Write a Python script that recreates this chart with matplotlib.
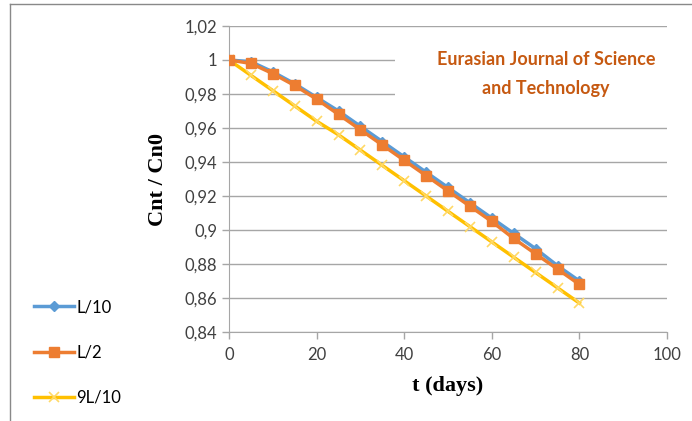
import matplotlib.pyplot as plt
from matplotlib.ticker import FuncFormatter, MultipleLocator
from matplotlib.lines import Line2D
from matplotlib.patches import Rectangle

# data
t_days = [0, 5, 10, 15, 20, 25, 30, 35, 40, 45, 50, 55, 60, 65, 70, 75, 80]
l_10 = [1.0, 0.999, 0.993, 0.986, 0.978, 0.970, 0.961, 0.952, 0.943,
        0.934, 0.925, 0.916, 0.907, 0.898, 0.889, 0.879, 0.870]
l_2 = [1.0, 0.998, 0.992, 0.985, 0.977, 0.968, 0.959, 0.950, 0.941,
       0.932, 0.923, 0.914, 0.905, 0.895, 0.886, 0.877, 0.868]
l_9_10 = [1.0, 0.991, 0.982, 0.973, 0.964, 0.956, 0.947, 0.938, 0.929,
          0.920, 0.911, 0.902, 0.893, 0.884, 0.875, 0.866, 0.857]
labels = ["L/10", "L/2", "9L/10"]

tick_font = "Lato"
grey = "#a6a6a6"

fig = plt.figure(figsize=(6.92, 4.21), dpi=100)
ax = fig.add_axes([229 / 692, 1 - 332 / 421, (667 - 229) / 692, (332 - 26) / 421])

h1, = ax.plot(t_days, l_10, color="#5b9bd5", lw=2.5, marker="D", ms=5, zorder=3)
h2, = ax.plot(t_days, l_2, color="#ed7d31", lw=2.5, marker="s", ms=7, zorder=4)
h3, = ax.plot(t_days, l_9_10, color="#ffc000", lw=2.5, marker="x", ms=7,
              mec="#ffd966", mew=1.2, zorder=2)

ax.set_xlim(0, 100)
ax.set_ylim(0.84, 1.02)
ax.xaxis.set_major_locator(MultipleLocator(20))
ax.yaxis.set_major_locator(MultipleLocator(0.02))
ax.yaxis.set_major_formatter(FuncFormatter(lambda v, p: f"{round(v, 2):g}".replace(".", ",")))

ax.grid(axis="y", color=grey, lw=1)
ax.set_axisbelow(True)
for s in ["top", "right"]:
    ax.spines[s].set_visible(False)
for s in ["left", "bottom"]:
    ax.spines[s].set_color(grey)
ax.tick_params(axis="both", direction="out", color=grey, length=5, width=1,
               labelsize=12, labelcolor="#404040")
ax.tick_params(axis="x", pad=6)
for lab in ax.get_xticklabels() + ax.get_yticklabels():
    lab.set_fontfamily(tick_font)

ax.set_xlabel("t (days)", fontfamily="Liberation Serif", fontweight="bold",
              fontsize=16, labelpad=9)
ax.set_ylabel("Cnt / Cn0", fontfamily="Liberation Serif", fontweight="bold",
              fontsize=16, labelpad=12)

# white box behind the journal name hides part of the grid
ax.add_patch(Rectangle((395 / 692, 1 - 118 / 421), 0.5, 82 / 421,
                       transform=fig.transFigure, facecolor="white",
                       edgecolor="none", zorder=1.5))
fig.text(0.789, 1 - 74 / 421, "Eurasian Journal of Science\nand Technology",
         ha="center", va="center", color="#c65911", fontfamily="Lato",
         fontweight="bold", fontsize=13, linespacing=1.9)

fig.legend([h1, h2, h3], labels, loc="upper left",
           bbox_to_anchor=(0.028, 0.325), frameon=False, handlelength=2.4,
           handletextpad=0.1, labelspacing=1.75,
           prop={"family": tick_font, "size": 12})

# chart frame
fig.add_artist(Line2D([10 / 692, 1], [1 - 4 / 421, 1 - 4 / 421], color="#898989", lw=1))
fig.add_artist(Line2D([10 / 692, 10 / 692], [0, 1 - 4 / 421], color="#898989", lw=1))

fig.savefig("out.png", dpi=100)
